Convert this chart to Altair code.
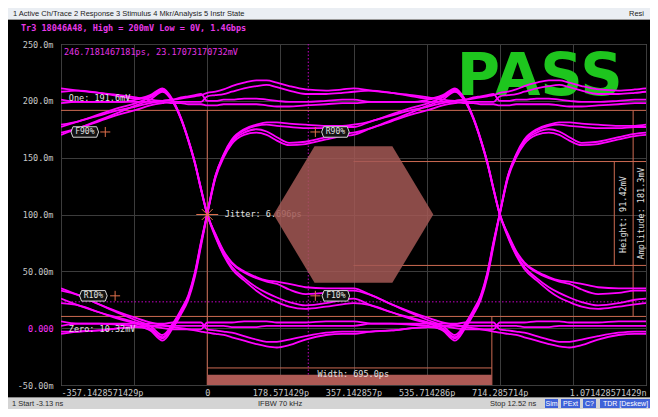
import altair as alt
import pandas as pd

# ---------------- values ----------------
X_MIN, X_MAX = -357.142857, 1071.428571          # ps
Y_MIN, Y_MAX = -50.0, 250.0                       # mV
BIT = 714.285714                                  # unit interval at 1.4 Gbps

X_TICKS = [-357.142857, -178.571429, 0.0, 178.571429, 357.142857,
           535.714286, 714.285714, 892.857143, 1071.428571]
X_LABELS = ["-357.1428571429p", "", "0", "178.571429p", "357.142857p",
            "535.714286p", "714.285714p", "", "1.071428571429n"]
Y_TICKS = [-50, 0, 50, 100, 150, 200, 250]
Y_LABELS = ["-50.00m", "0.000", "50.00m", "100.0m", "150.0m", "200.0m", "250.0m"]

# eye traces: half-bit pieces (mV)
SETTLE_T = [0, 20, 40, 60, 90, 120, 145, 170, 200, 240, 290, 330, 357.142857]
APPROACH_T = [400, 450, 500, 540, 575, 605, 630, 650, 668, 684, 699]

RISE = [
    [101, 134, 153, 166, 175, 179, 181, 181, 180, 179, 178, 178, 179],
    [100, 133, 152, 165, 174, 178, 179, 178, 177, 176, 176, 177, 177],
    [101, 134, 152, 164, 172, 175, 173, 168, 163, 164, 168, 171, 172],
    [100, 132, 150, 162, 170, 172, 170, 165, 161, 162, 166, 169, 170],
]
FALL = [
    [100, 83, 68, 58, 50, 45, 42, 41, 39, 36, 35, 35, 35],
    [100, 82, 67, 57, 49, 44, 41, 39, 34, 30, 31, 33, 33],
    [101, 81, 65, 54, 44, 36, 31, 27, 23, 20, 22, 25, 26],
    [100, 80, 64, 52, 42, 33, 27, 23, 19, 17, 19, 21, 22],
]
HIGH = [
    [207, 208, 210, 213, 216, 218, 218, 216, 213, 210, 209, 210, 211],
    [204, 205, 206, 208, 211, 213, 214, 212, 209, 206, 206, 207, 208],
    [200, 200, 201, 201, 202, 202, 201, 200, 199, 199, 200, 201, 201],
    [196, 196, 197, 197, 197, 197, 196, 195, 195, 196, 197, 198, 198],
]
LOW = [
    [-4, -5, -6, -8, -11, -14, -16, -17, -15, -10, -6, -5, -5],
    [-1, -2, -3, -4, -7, -10, -12, -12, -10, -7, -4, -3, -3],
    [2, 2, 2, 1, 1, 1, 2, 2, 2, 2, 2, 2, 2],
    [5, 5, 5, 5, 6, 6, 6, 5, 5, 5, 6, 6, 6],
]
HOLD_HIGH = [
    [209, 207, 205, 203, 201, 200, 201, 203, 204, 205, 206],
    [199, 199, 199, 199, 199, 199, 198, 198, 197, 197, 197],
]
REC_HIGH = [
    [182, 187, 192, 195, 198, 200, 201, 202, 203, 204, 205],
    [176, 182, 188, 192, 196, 198, 199, 199, 199, 199, 199],
]
DROP_HIGH = [
    [209, 207, 204, 202, 205, 211, 201, 185, 166, 146, 123],
    [199, 199, 199, 201, 204, 210, 200, 184, 165, 145, 122],
]
DROP_REC = [
    [182, 188, 194, 198, 203, 209, 200, 185, 166, 146, 123],
    [176, 183, 190, 196, 201, 208, 199, 184, 165, 145, 122],
]
HOLD_LOW = [
    [-3, -2, 0, 1, 2, 2, 1, 0, -1, -2, -3],
    [4, 4, 4, 4, 4, 4, 5, 5, 5, 5, 5],
]
REC_LOW = [
    [29, 21, 14, 9, 5, 3, 2, 2, 2, 2, 2],
    [20, 14, 9, 5, 2, 0, -1, -1, -1, -1, -1],
]
LIFT_LOW = [
    [-3, -2, 0, 1, -1, -9, 2, 14, 27, 47, 74],
    [4, 4, 3, 2, -2, -11, 0, 12, 25, 45, 72],
]
LIFT_REC = [
    [29, 21, 13, 7, 2, -6, 4, 16, 29, 49, 76],
    [20, 14, 8, 4, 0, -8, 3, 15, 28, 48, 75],
]
TRACE_BITS = ["0000", "0001", "0010", "0011", "0100", "0101", "0110", "0111",
              "1000", "1001", "1010", "1011", "1100", "1101", "1110", "1111"]

# measurement annotations
ONE_LEVEL, ZERO_LEVEL = 191.6, 10.32
HEIGHT_TOP, HEIGHT_BOTTOM = 146.6, 55.2
EYE_WIDTH = 695.0
CURSOR_T, CURSOR_MV = 246.7181467181, 23.17073170732

MASK_T = [162, 262, 452, 552]
MASK_HI = [100, 160, 160, 100]
MASK_LO = [100, 40, 40, 100]

RULE_T1 = [X_MIN, X_MIN, 357.142857, 357.142857, 0.0, 0.0, EYE_WIDTH, 994.0, 1040.0]
RULE_T2 = [X_MAX, X_MAX, X_MAX, X_MAX, EYE_WIDTH, 0.0, EYE_WIDTH, 994.0, 1040.0]
RULE_V1 = [ONE_LEVEL, ZERO_LEVEL, HEIGHT_TOP, HEIGHT_BOTTOM, -35.0, Y_MIN, Y_MIN, HEIGHT_BOTTOM, ZERO_LEVEL]
RULE_V2 = [ONE_LEVEL, ZERO_LEVEL, HEIGHT_TOP, HEIGHT_BOTTOM, -35.0, ONE_LEVEL, ZERO_LEVEL, HEIGHT_TOP, ONE_LEVEL]

WIDTH_BAR_T = [0.0, EYE_WIDTH]
WIDTH_BAR_MV = [Y_MIN, -41.0]

BOX_TEXT = ["F90%", "R10%", "R90%", "F10%"]
BOX_T = [-299, -278, 313, 314]
BOX_MV = [172.6, 28.45, 172.6, 28.45]
PLUS_T = [-249, -225, 264, 264]
PLUS_MV = [172.6, 28.45, 172.6, 28.45]

NOTE_TEXT = ["One: 191.6mV", "Zero: 10.32mV", "Width: 695.0ps"]
NOTE_T = [-338, -338, 269]
NOTE_MV = [202.5, -0.5, -40.0]
JITTER_TEXT, JITTER_T, JITTER_MV = "Jitter: 6.696ps", 43, 100.4
READOUT_TEXT, READOUT_T, READOUT_MV = "246.7181467181ps, 23.17073170732mV", -350, 243
VERT_TEXT = ["Height: 91.42mV", "Amplitude: 181.3mV"]
VERT_T = [1016, 1060]
VERT_MV = [100, 101]
PASS_TEXT, PASS_T, PASS_MV = "PASS", 812, 205

TITLE_TEXT = "Tr3 18046A48, High = 200mV Low = 0V, 1.4Gbps"
MENU_TEXT = "1 Active Ch/Trace    2 Response    3 Stimulus    4 Mkr/Analysis    5 Instr State"
STATUS_LEFT, STATUS_MID, STATUS_RIGHT = "1   Start -3.13 ns", "IFBW 70 kHz", "Stop 12.52 ns"
STATUS_BOXES = ["Sim", "PExt", "C?", "TDR [Deskew]"]


# ---------------- build the eye table ----------------
def settle(prev, cur, v):
    return {(0, 0): LOW, (0, 1): RISE, (1, 0): FALL, (1, 1): HIGH}[(prev, cur)][v]


def approach(prev, cur, nxt, w):
    if cur == 1:
        if nxt == 1:
            table = HOLD_HIGH if prev == 1 else REC_HIGH
        else:
            table = DROP_HIGH if prev == 1 else DROP_REC
    else:
        if nxt == 0:
            table = HOLD_LOW if prev == 0 else REC_LOW
        else:
            table = LIFT_LOW if prev == 0 else LIFT_REC
    return table[w]


times = ([SETTLE_T[-1] - BIT] + [o - BIT for o in APPROACH_T] + SETTLE_T
         + APPROACH_T + [o + BIT for o in SETTLE_T])
rows = []
for k, bits in enumerate(TRACE_BITS):
    bm2, bm1, b0, b1 = (int(c) for c in bits)
    vals = ([settle(bm2, bm1, 2 * b1 + b0)[-1]]
            + approach(bm2, bm1, b0, b1)
            + settle(bm1, b0, 2 * bm2 + b1)
            + approach(bm1, b0, b1, bm2)
            + settle(b0, b1, 2 * bm1 + bm2))
    for i, (t, v) in enumerate(zip(times, vals)):
        rows.append({"trace": k, "i": i, "t": t, "mv": v})
eye_df = pd.DataFrame(rows)


def label_expr(values, labels):
    expr = "''"
    for v, lab in reversed(list(zip(values, labels))):
        expr = f"round(datum.value) == {round(v)} ? '{lab}' : ({expr})"
    return expr


MONO = "DejaVu Sans Mono"
MAGENTA = "#ff00ff"
MARKER = "#cc6a52"
TEXT_LIGHT = "#e2e2e2"
GRID = "#3c3c3c"

xs = alt.Scale(domain=[X_MIN, X_MAX], nice=False, zero=False)
ys = alt.Scale(domain=[Y_MIN, Y_MAX], nice=False, zero=False)

x_axis = alt.Axis(values=X_TICKS, labelExpr=label_expr(X_TICKS, X_LABELS), title=None,
                  grid=True, gridColor=GRID, gridWidth=1, ticks=False, tickSize=0,
                  domain=False, labelColor="#c8c8c8", labelFont=MONO, labelFontSize=8.5,
                  labelPadding=3, labelOverlap=False, labelFlush=True)
y_axis = alt.Axis(values=Y_TICKS, labelExpr=label_expr(Y_TICKS, Y_LABELS), title=None,
                  grid=True, gridColor=GRID, gridWidth=1, ticks=False, tickSize=0,
                  domain=False,
                  labelColor={"condition": {"test": "datum.value == 0", "value": "#ff33ff"},
                              "value": "#c8c8c8"},
                  labelFont=MONO, labelFontSize=8.5, labelPadding=8, labelOverlap=False)


def X(field):
    return alt.X(field, scale=xs, axis=x_axis)


def Y(field):
    return alt.Y(field, scale=ys, axis=y_axis)


layers = []

# cursor (dotted magenta crosshair)
layers.append(alt.Chart(pd.DataFrame({"t": [CURSOR_T], "lo": [Y_MIN], "hi": [Y_MAX]}))
              .mark_rule(color="#c400c4", strokeDash=[1.5, 2], strokeWidth=1)
              .encode(x=X("t:Q"), y=Y("lo:Q"), y2="hi:Q"))
layers.append(alt.Chart(pd.DataFrame({"a": [X_MIN], "b": [X_MAX], "mv": [CURSOR_MV]}))
              .mark_rule(color="#c400c4", strokeDash=[1.5, 2], strokeWidth=1)
              .encode(x=X("a:Q"), x2="b:Q", y=Y("mv:Q")))

# measurement rules
rules_df = pd.DataFrame({"t1": RULE_T1, "t2": RULE_T2, "v1": RULE_V1, "v2": RULE_V2})
layers.append(alt.Chart(rules_df).mark_rule(color=MARKER, strokeWidth=1)
              .encode(x=X("t1:Q"), x2="t2:Q", y=Y("v1:Q"), y2="v2:Q"))

# jitter text (sits under the mask)
layers.append(alt.Chart(pd.DataFrame({"t": [JITTER_T], "mv": [JITTER_MV], "s": [JITTER_TEXT]}))
              .mark_text(font=MONO, fontSize=8.5, color=TEXT_LIGHT, align="left", baseline="middle")
              .encode(x=X("t:Q"), y=Y("mv:Q"), text="s:N"))

# hexagon mask
mask_df = pd.DataFrame({"t": MASK_T, "hi": MASK_HI, "lo": MASK_LO})
layers.append(alt.Chart(mask_df).mark_area(color="#a35855", opacity=0.85, interpolate="linear")
              .encode(x=X("t:Q"), y=Y("hi:Q"), y2="lo:Q"))

# width bar
layers.append(alt.Chart(pd.DataFrame({"t1": [WIDTH_BAR_T[0]], "t2": [WIDTH_BAR_T[1]],
                                      "lo": [WIDTH_BAR_MV[0]], "hi": [WIDTH_BAR_MV[1]]}))
              .mark_rect(color="#ad5a55")
              .encode(x=X("t1:Q"), x2="t2:Q", y=Y("lo:Q"), y2="hi:Q"))

# PASS
layers.append(alt.Chart(pd.DataFrame({"t": [PASS_T], "mv": [PASS_MV], "s": [PASS_TEXT]}))
              .mark_text(font="DejaVu Sans", fontWeight="bold", fontSize=59, color="#1ec61e",
                         align="center", baseline="alphabetic")
              .encode(x=X("t:Q"), y=Y("mv:Q"), text="s:N"))

# eye traces
layers.append(alt.Chart(eye_df)
              .mark_line(color=MAGENTA, strokeWidth=1.8, interpolate="monotone", clip=True)
              .encode(x=X("t:Q"), y=Y("mv:Q"), detail="trace:N", order="i:Q"))

# boxed level labels and their "+" markers
box_df = pd.DataFrame({"t": BOX_T, "mv": BOX_MV, "s": BOX_TEXT})
layers.append(alt.Chart(box_df)
              .mark_point(shape="M-1,0L-0.86,-0.38H0.86L1,0L0.86,0.38H-0.86Z", size=760,
                          filled=True, fill="#121212", stroke="#d4d4d4", strokeWidth=1, opacity=1)
              .encode(x=X("t:Q"), y=Y("mv:Q")))
layers.append(alt.Chart(box_df)
              .mark_text(font=MONO, fontSize=8, color=TEXT_LIGHT, align="center", baseline="middle")
              .encode(x=X("t:Q"), y=Y("mv:Q"), text="s:N"))
layers.append(alt.Chart(pd.DataFrame({"t": PLUS_T, "mv": PLUS_MV}))
              .mark_point(shape="M-1,0H1M0,-1V1", size=100, filled=False, color="#e0704c",
                          strokeWidth=1, opacity=1)
              .encode(x=X("t:Q"), y=Y("mv:Q")))
layers.append(alt.Chart(pd.DataFrame({"t": [0.0], "mv": [100.0]}))
              .mark_point(shape="M-1,0H1M-0.5,-0.5L0.5,0.5M-0.5,0.5L0.5,-0.5M0,-0.55V0.55",
                          size=480, filled=False, color="#e0704c", strokeWidth=1, opacity=1)
              .encode(x=X("t:Q"), y=Y("mv:Q")))

# measurement texts
layers.append(alt.Chart(pd.DataFrame({"t": NOTE_T, "mv": NOTE_MV, "s": NOTE_TEXT}))
              .mark_text(font=MONO, fontSize=8.5, color=TEXT_LIGHT, align="left", baseline="middle")
              .encode(x=X("t:Q"), y=Y("mv:Q"), text="s:N"))
layers.append(alt.Chart(pd.DataFrame({"t": VERT_T, "mv": VERT_MV, "s": VERT_TEXT}))
              .mark_text(font=MONO, fontSize=8.5, color=TEXT_LIGHT, align="center",
                         baseline="middle", angle=270)
              .encode(x=X("t:Q"), y=Y("mv:Q"), text="s:N"))
layers.append(alt.Chart(pd.DataFrame({"t": [READOUT_T], "mv": [READOUT_MV], "s": [READOUT_TEXT]}))
              .mark_text(font=MONO, fontSize=8.5, color="#e633e6", align="left", baseline="middle")
              .encode(x=X("t:Q"), y=Y("mv:Q"), text="s:N"))

# ---------------- instrument window chrome (pixel placed) ----------------
ONE = pd.DataFrame({"k": [0]})


def px_rect(x1, x2, y1, y2, color):
    return alt.Chart(ONE).mark_rect(color=color).encode(
        x=alt.value(x1), x2=alt.value(x2), y=alt.value(y1), y2=alt.value(y2))


def px_text(s, x, y, color, size=7.5, font="Liberation Sans", weight="normal", align="left"):
    return alt.Chart(ONE).mark_text(text=s, color=color, fontSize=size, font=font,
                                    fontWeight=weight, align=align, baseline="middle").encode(
        x=alt.value(x), y=alt.value(y))


layers += [
    px_rect(-53, 589, -36, -25, "#eaeef3"),
    px_rect(-53, 589, -25, -24, "#9a9a9a"),
    px_text(MENU_TEXT, -48, -30.5, "#222222"),
    px_text("Resi", 568, -30.5, "#222222"),
    px_text(TITLE_TEXT, -40, -16, "#e838e8", size=8.5, font=MONO, weight="bold"),
    px_rect(-53, 589, 353, 365, "#d4d4d4"),
    px_rect(-53, 589, 353, 354, "#8a8a8a"),
    px_text(STATUS_LEFT, -49, 359.5, "#2a2a2a"),
    px_text(STATUS_MID, 197, 359.5, "#2a2a2a"),
    px_text(STATUS_RIGHT, 429, 359.5, "#2a2a2a"),
    px_rect(484, 497, 355, 364, "#3f62d8"),
    px_rect(500, 519, 355, 364, "#3f62d8"),
    px_rect(522, 535, 355, 364, "#3f62d8"),
    px_rect(539, 589, 355, 364, "#3f62d8"),
    px_text(STATUS_BOXES[0], 490.5, 359.5, "#ffffff", size=7, align="center"),
    px_text(STATUS_BOXES[1], 509.5, 359.5, "#ffffff", size=7, align="center"),
    px_text(STATUS_BOXES[2], 528.5, 359.5, "#ffffff", size=7, align="center"),
    px_text(STATUS_BOXES[3], 542, 359.5, "#ffffff", size=7, align="left"),
]

chart = alt.layer(*layers).properties(
    width=585,
    height=341,
    padding={"left": 53, "top": 36, "right": 4, "bottom": 24},
    autosize=alt.AutoSizeParams(type="none"),
    background="#000000",
).configure_view(fill="#000000", stroke="#8a8a8a", strokeWidth=1)

chart.save("out.html", embed_options={"renderer": "svg", "actions": False})
